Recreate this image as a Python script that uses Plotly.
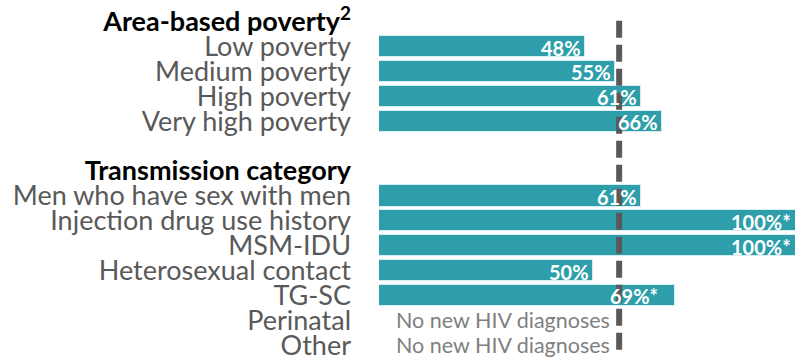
import plotly.graph_objects as go

# Section headers and their rows
poverty_header = "Area-based poverty"
poverty_labels = ["Low poverty", "Medium poverty", "High poverty", "Very high poverty"]
poverty_pct = [48, 55, 61, 66]
poverty_flag = ["", "", "", ""]

trans_header = "Transmission category"
trans_labels = ["Men who have sex with men", "Injection drug use history", "MSM-IDU",
                "Heterosexual contact", "TG-SC", "Perinatal", "Other"]
trans_pct = [61, 100, 100, 50, 69, None, None]
trans_flag = ["", "*", "*", "", "*", "", ""]

reference_pct = 56
no_data_text = "No new HIV diagnoses"

BAR = "#2E9FAA"
LABEL_GREY = "#595959"
FONT = "Lato"

# Build the row list: header, items, spacer, header, items
rows = []
rows.append(dict(label=f"<b>{poverty_header}<sup>2</sup></b>", header=True, value=None, flag=""))
for lab, v, f in zip(poverty_labels, poverty_pct, poverty_flag):
    rows.append(dict(label=lab, header=False, value=v, flag=f))
rows.append(dict(label=" ", header=False, value=None, flag="", spacer=True))
rows.append(dict(label=f"<b>{trans_header}</b>", header=True, value=None, flag=""))
for lab, v, f in zip(trans_labels, trans_pct, trans_flag):
    rows.append(dict(label=lab, header=False, value=v, flag=f))

ypos = list(range(len(rows)))
xmax = 97
px_per_pct = (795 - 379) / xmax

fig = go.Figure()
bar_y = [y for y, r in zip(ypos, rows) if r["value"] is not None]
bar_x = [r["value"] for r in rows if r["value"] is not None]
fig.add_trace(go.Bar(
    x=bar_x, y=bar_y, orientation="h", width=0.86,
    marker=dict(color=BAR, line=dict(color="#d6eef0", width=1)),
    hoverinfo="skip",
))

annotations = []
for y, r in zip(ypos, rows):
    if r["value"] is not None:
        v = r["value"]
        # flagged labels sit a little further in from the bar end
        shift = -15 if r["flag"] else -2
        if v > xmax:
            shift += (v - xmax) * px_per_pct
        annotations.append(dict(
            x=min(v, xmax), y=y, xref="x", yref="y",
            text=f"<b>{v}%{r['flag']}</b>", showarrow=False,
            xanchor="right", yanchor="middle", xshift=shift, yshift=-1,
            font=dict(family=FONT, size=20, color="white"),
        ))
    elif not r["header"] and not r.get("spacer"):
        annotations.append(dict(
            x=0, y=y, xref="x", yref="y", text=no_data_text, showarrow=False,
            xanchor="left", yanchor="middle", xshift=15,
            font=dict(family=FONT, size=21.5, color="#7f7f7f"),
        ))

ticktext = []
for r in rows:
    if r["header"]:
        ticktext.append(f"<span style='color:black'>{r['label']}</span>")
    else:
        ticktext.append(r["label"])

fig.add_shape(type="line", xref="x", yref="y", x0=reference_pct, x1=reference_pct,
              y0=-0.04, y1=len(rows) - 0.4, layer="above",
              line=dict(color="#595959", width=6, dash="17px,7px"))

fig.update_layout(
    width=795, height=360,
    margin=dict(l=379, r=0, t=0, b=0),
    paper_bgcolor="white", plot_bgcolor="white",
    showlegend=False,
    annotations=annotations,
    bargap=0,
    xaxis=dict(range=[0, xmax], visible=False, fixedrange=True),
    yaxis=dict(
        range=[len(rows) - 1 + 0.396, -0.872],
        tickmode="array", tickvals=ypos, ticktext=ticktext,
        showgrid=False, zeroline=False, showline=False, ticks="",
        ticklabelstandoff=27, ticklabeloverflow="allow",
        tickfont=dict(family=FONT, size=27, color=LABEL_GREY),
    ),
)

fig.write_html("out.html")
